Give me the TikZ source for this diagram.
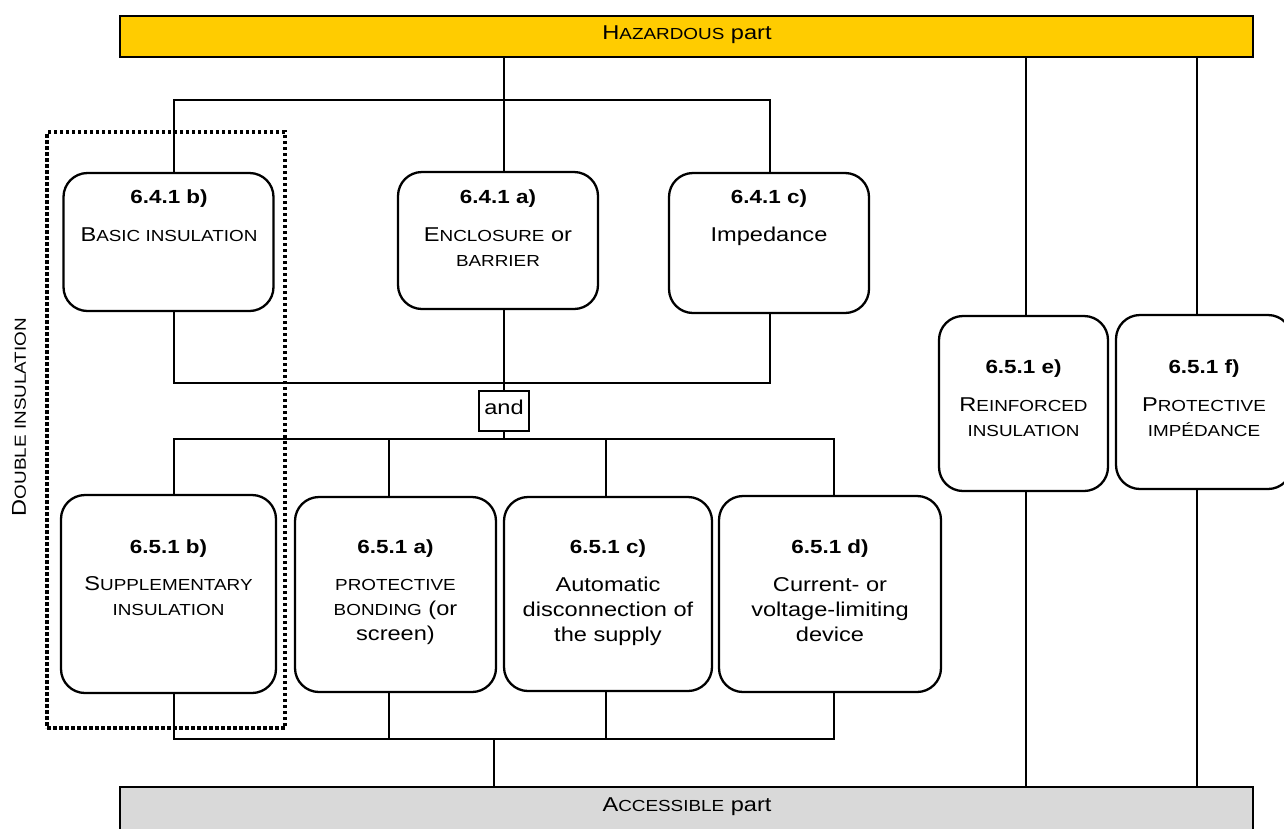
\documentclass[tikz,border=0pt]{standalone}
\usepackage{fontspec}
\setmainfont{Liberation Sans}[FakeStretch=1.18]
\newcommand{\mysc}[1]{{\fontsize{16}{25}\selectfont #1}}
\newcommand{\ML}[1]{\begin{tabular}[t]{@{}c@{}}#1\end{tabular}}
\definecolor{hazy}{HTML}{FFCC00}
\definecolor{accg}{HTML}{D9D9D9}
\begin{document}
\begin{tikzpicture}[x=1pt,y=-1pt,
 rbox/.style={draw, line width=2.3pt, rounded corners=24pt, inner sep=0pt, fill=white},
 bar/.style={draw, line width=2.5pt, inner sep=0pt, minimum width=1133pt},
 conn/.style={line width=1.4pt},
 ttl/.style={anchor=base, inner sep=0pt, font=\fontsize{19}{23}\selectfont\bfseries},
 bdy/.style={anchor=base, inner sep=0pt, font=\fontsize{20}{25}\selectfont},
 dotbox/.style={draw, line width=3.5pt, dash pattern=on 3.5pt off 2.5pt, inner sep=0pt}]
\useasboundingbox (0,0) rectangle (1284,828);

% bars
\node[bar, fill=hazy, minimum height=41pt] (haz) at (686.5,36.5) {};
\node[bar, fill=accg, minimum height=73pt] (acc) at (686.5,823.5) {};

% boxes
\node[rbox, minimum width=210pt, minimum height=138pt] (b641b) at (168.5,242) {};
\node[rbox, minimum width=200pt, minimum height=137pt] (b641a) at (498,240.5) {};
\node[rbox, minimum width=200pt, minimum height=140pt] (b641c) at (769,243) {};
\node[rbox, minimum width=215pt, minimum height=198pt] (b651b) at (168.5,594) {};
\node[rbox, minimum width=201pt, minimum height=195pt] (b651a) at (395.5,594.5) {};
\node[rbox, minimum width=208pt, minimum height=194pt] (b651c) at (608,594) {};
\node[rbox, minimum width=222pt, minimum height=196pt] (b651d) at (830,594) {};
\node[rbox, minimum width=169pt, minimum height=175pt] (b651e) at (1023.5,403.5) {};
\node[rbox, minimum width=176pt, minimum height=174pt] (b651f) at (1204,402) {};
\node[draw, line width=1.4pt, fill=white, inner sep=0pt, minimum width=50pt, minimum height=40pt] (and) at (504,411) {};

% bus coordinates
\coordinate (tb1) at (174,100); \coordinate (tb2) at (504,100); \coordinate (tb3) at (770,100);
\coordinate (mb1) at (174,383); \coordinate (mb2) at (504,383); \coordinate (mb3) at (770,383);
\coordinate (nb1) at (174,439); \coordinate (nb2) at (389,439); \coordinate (nb3) at (606,439); \coordinate (nb4) at (834,439); \coordinate (nbA) at (504,439);
\coordinate (bb1) at (174,739); \coordinate (bb2) at (389,739); \coordinate (bb3) at (606,739); \coordinate (bb4) at (834,739); \coordinate (bbA) at (494,739);
\coordinate (r1) at (1026,0); \coordinate (r2) at (1197,0);

% connectors
\draw[conn] (tb2 |- haz.south) -- (tb2 |- b641a.north);
\draw[conn] (tb1 |- b641b.north) -- (tb1) -- (tb3) -- (tb3 |- b641c.north);
\draw[conn] (mb1 |- b641b.south) -- (mb1) -- (mb3) -- (mb3 |- b641c.south);
\draw[conn] (mb2 |- b641a.south) -- (mb2 |- and.north);
\draw[conn] (nbA |- and.south) -- (nbA);
\draw[conn] (nb1 |- b651b.north) -- (nb1) -- (nb4) -- (nb4 |- b651d.north);
\draw[conn] (nb2) -- (nb2 |- b651a.north);
\draw[conn] (nb3) -- (nb3 |- b651c.north);
\draw[conn] (bb1 |- b651b.south) -- (bb1) -- (bb4) -- (bb4 |- b651d.south);
\draw[conn] (bb2 |- b651a.south) -- (bb2);
\draw[conn] (bb3 |- b651c.south) -- (bb3);
\draw[conn] (bbA) -- (bbA |- acc.north);
\draw[conn] (r1 |- haz.south) -- (r1 |- b651e.north);
\draw[conn] (r1 |- b651e.south) -- (r1 |- acc.north);
\draw[conn] (r2 |- haz.south) -- (r2 |- b651f.north);
\draw[conn] (r2 |- b651f.south) -- (r2 |- acc.north);

% texts
\node[bdy] (hazt) at (687,39) {H\mysc{AZARDOUS} part};
\node[bdy] (acct) at (687,811) {A\mysc{CCESSIBLE} part};
\node[bdy] (andt) at (504,414) {and};

\node[ttl] (t641b) at (169,203) {6.4.1 b)};
\node[bdy] (x641b) at (169,241) {\ML{B\mysc{ASIC INSULATION}}};
\node[ttl] (t641a) at (498,203) {6.4.1 a)};
\node[bdy] (x641a) at (498,241) {\ML{E\mysc{NCLOSURE} or\\\mysc{BARRIER}}};
\node[ttl] (t641c) at (769,203) {6.4.1 c)};
\node[bdy] (x641c) at (769,241) {\ML{Impedance}};

\node[ttl] (t651b) at (168.5,553) {6.5.1 b)};
\node[bdy] (x651b) at (168.5,590) {\ML{S\mysc{UPPLEMENTARY}\\\mysc{INSULATION}}};
\node[ttl] (t651a) at (395.5,553) {6.5.1 a)};
\node[bdy] (x651a) at (395.5,590) {\ML{\mysc{PROTECTIVE}\\\mysc{BONDING} (or\\screen)}};
\node[ttl] (t651c) at (608,553) {6.5.1 c)};
\node[bdy] (x651c) at (608,591) {\ML{Automatic\\disconnection of\\the supply}};
\node[ttl] (t651d) at (830,553) {6.5.1 d)};
\node[bdy] (x651d) at (830,591) {\ML{Current- or\\voltage-limiting\\device}};
\node[ttl] (t651e) at (1023.5,373) {6.5.1 e)};
\node[bdy] (x651e) at (1023.5,411) {\ML{R\mysc{EINFORCED}\\\mysc{INSULATION}}};
\node[ttl] (t651f) at (1204,373) {6.5.1 f)};
\node[bdy] (x651f) at (1204,411) {\ML{P\mysc{ROTECTIVE}\\\mysc{IMPÉDANCE}}};

% double insulation frame
\node[dotbox, minimum width=238pt, minimum height=596pt] (dbl) at (166,430) {};
\node[inner sep=0pt, rotate=90, font=\fontsize{20}{24}\selectfont] (dbllbl) at (19,417) {D\mysc{OUBLE INSULATION}};
\end{tikzpicture}
\end{document}
